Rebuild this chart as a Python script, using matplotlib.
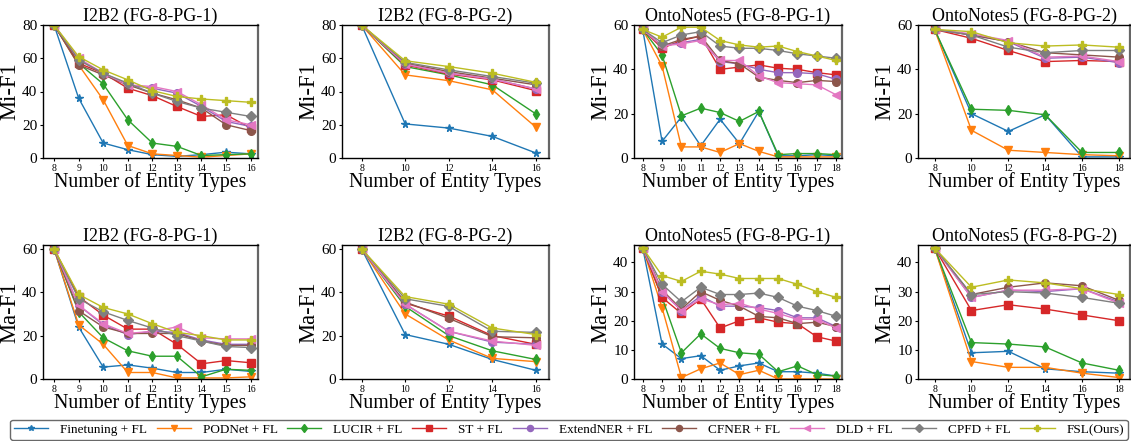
import numpy as np
import matplotlib
matplotlib.use("Agg")
import matplotlib.pyplot as plt

plt.rcParams['font.family'] = ['Liberation Serif', 'DejaVu Serif']
plt.rcParams['mathtext.fontset'] = 'stix'

methods = ['Finetuning + FL', 'PODNet + FL', 'LUCIR + FL', 'ST + FL', 'ExtendNER + FL',
           'CFNER + FL', 'DLD + FL', 'CPFD + FL', 'FSL(Ours)']
colors = ['tab:blue', 'tab:orange', 'tab:green', 'tab:red', 'tab:purple',
          'tab:brown', 'tab:pink', 'tab:gray', 'tab:olive']
markers = ['*', 'v', 'd', 's', 'o', 'o', '<', 'D', 'P']

x_i2b2_pg1 = [8, 9, 10, 11, 12, 13, 14, 15, 16]
x_i2b2_pg2 = [8, 10, 12, 14, 16]
x_onto_pg1 = [8, 9, 10, 11, 12, 13, 14, 15, 16, 17, 18]
x_onto_pg2 = [8, 10, 12, 14, 16, 18]

# Mi-F1, I2B2 (FG-8-PG-1)
mi_i2b2_pg1 = [
    [80, 36, 9, 5, 2, 1, 2, 3.5, 2.5],
    [80, 56, 35, 7.5, 2.5, 1.5, 0.5, 1.5, 2.5],
    [80, 57, 44.5, 23, 9, 7, 1.5, 2, 2.5],
    [80, 57, 51, 42, 37.5, 31, 25, 26, 18],
    [80, 59, 51, 44, 42, 39, 31, 22, 19],
    [80, 56, 50, 44, 39, 35, 30, 20, 16.5],
    [80, 60, 51, 44, 43, 40, 32, 23, 20],
    [80, 59, 51, 45, 39, 34, 30, 27.5, 25],
    [80, 61, 53, 47, 40.5, 37, 35.5, 34.5, 33.5],
]
# Mi-F1, I2B2 (FG-8-PG-2)
mi_i2b2_pg2 = [
    [80, 20.5, 18, 13, 3],
    [80, 50, 46.5, 41, 18.5],
    [80, 55, 50, 44, 26.5],
    [80, 56, 50.5, 47, 40.5],
    [80, 56.5, 51, 47.5, 41.5],
    [80, 57, 52, 48, 44],
    [80, 56.5, 51, 47.5, 41.5],
    [80, 57.5, 53, 49, 45],
    [80, 58.5, 55, 51, 45.5],
]
# Mi-F1, OntoNotes5 (FG-8-PG-1)
mi_onto_pg1 = [
    [58, 7.5, 18.5, 5.5, 17.5, 6.5, 21, 1, 1, 1.5, 1],
    [58, 41.5, 5, 5, 2.5, 6.5, 3, 0.5, 0.5, 0.5, 0.5],
    [58, 46.5, 19, 22.5, 20.5, 16.5, 21, 1.5, 2, 2, 1.5],
    [58, 49.5, 53, 55, 40, 41, 42, 40.5, 40, 38.5, 37.5],
    [58, 50.5, 52, 53.5, 43.5, 42.5, 40, 38.5, 38.5, 38, 35.5],
    [58, 50.5, 53.5, 55, 44, 42.5, 36.5, 35, 34, 35, 34.5],
    [58, 50.5, 51.5, 53, 44, 44, 37, 34, 33.5, 33, 28.5],
    [58, 52, 55.5, 57, 50.5, 49.5, 49.5, 48.5, 47, 46, 45],
    [58, 54.5, 59, 59, 53, 51, 50, 50.5, 48, 46, 44],
]
# Mi-F1, OntoNotes5 (FG-8-PG-2)
mi_onto_pg2 = [
    [58, 20, 12, 19.5, 0.5, 0.5],
    [58, 12.5, 3.5, 2.5, 1.5, 1],
    [58, 22, 21.5, 19.5, 2.5, 2.5],
    [58, 54, 48.5, 43.5, 44, 43.5],
    [58, 55.5, 52.5, 45, 45.5, 43],
    [58, 55.5, 52.5, 47.5, 46.5, 45.5],
    [58, 56, 53, 45.5, 46, 43.5],
    [58, 55.5, 50, 47.5, 48.5, 48.5],
    [58, 57, 52, 50.5, 51, 50],
]
# Ma-F1, I2B2 (FG-8-PG-1)
ma_i2b2_pg1 = [
    [60, 24, 5.5, 6.5, 5, 3, 3, 4.5, 3.5],
    [60, 25, 16, 3, 3, 0.5, 0.5, 0.5, 1],
    [60, 31, 19, 13, 10.5, 10.5, 1, 4.5, 4],
    [60, 38, 29.5, 23, 23, 16, 7, 8.5, 7.5],
    [60, 34, 25, 20.5, 22, 21.5, 18, 16, 16],
    [60, 31.5, 24, 21, 21, 21, 17.5, 15.5, 15.5],
    [60, 34, 25.5, 21, 22, 24, 19, 18.5, 18.5],
    [60, 37, 31, 27, 23.5, 20, 17.5, 15, 14.5],
    [60, 39, 33, 30, 25.5, 21.5, 20, 18, 18],
]
# Ma-F1, I2B2 (FG-8-PG-2)
ma_i2b2_pg2 = [
    [60, 20.5, 16, 9, 4],
    [60, 30, 18, 9.5, 8],
    [60, 33.5, 20, 13, 9],
    [60, 35, 29, 20, 16],
    [60, 34.5, 22, 17, 16],
    [60, 35.5, 28, 19.5, 19],
    [60, 34.5, 22, 17.5, 15.5],
    [60, 37, 33.5, 22, 21.5],
    [60, 38, 34.5, 23.5, 20.5],
]
# Ma-F1, OntoNotes5 (FG-8-PG-1)
ma_onto_pg1 = [
    [45, 12, 7, 8, 3, 4.5, 5.5, 2.5, 2.5, 2, 1],
    [45, 24.5, 0.5, 3.5, 5.5, 1.5, 3, 0, 0, 0, 0],
    [45, 28, 9, 15.5, 10.5, 9, 8.5, 2.5, 4.5, 1.5, 1],
    [45, 28, 22.5, 27.5, 17.5, 20, 21, 19.5, 19, 14.5, 13],
    [45, 30, 23.5, 28.5, 25, 25, 24.5, 23.5, 21, 21, 18],
    [45, 30.5, 24, 30, 27, 25, 21.5, 21, 19, 19.5, 18],
    [45, 30, 23.5, 27.5, 25.5, 26, 24, 22.5, 20.5, 20.5, 17.5],
    [45, 32.5, 26.5, 31.5, 29, 29, 29.5, 28, 25, 23.5, 21.5],
    [45, 35.5, 33.5, 37, 36, 34.5, 34.5, 34.5, 32.5, 30, 28],
]
# Ma-F1, OntoNotes5 (FG-8-PG-2)
ma_onto_pg2 = [
    [45, 9, 9.5, 3.5, 2.5, 2],
    [45, 6, 4, 4, 2, 0.5],
    [45, 12.5, 12, 11, 5.5, 3],
    [45, 23.5, 25.5, 24, 22, 20],
    [45, 28, 30.5, 30, 31, 26.5],
    [45, 29, 31.5, 33, 32, 27],
    [45, 28, 30.5, 30.5, 31, 26],
    [45, 29, 30, 29.5, 28, 26],
    [45, 31.5, 34, 33, 31, 29],
]

panels = [
    ('I2B2 (FG-8-PG-1)', 'Mi-F1', x_i2b2_pg1, mi_i2b2_pg1, 80, [0, 20, 40, 60, 80]),
    ('I2B2 (FG-8-PG-2)', 'Mi-F1', x_i2b2_pg2, mi_i2b2_pg2, 80, [0, 20, 40, 60, 80]),
    ('OntoNotes5 (FG-8-PG-1)', 'Mi-F1', x_onto_pg1, mi_onto_pg1, 60, [0, 20, 40, 60]),
    ('OntoNotes5 (FG-8-PG-2)', 'Mi-F1', x_onto_pg2, mi_onto_pg2, 60, [0, 20, 40, 60]),
    ('I2B2 (FG-8-PG-1)', 'Ma-F1', x_i2b2_pg1, ma_i2b2_pg1, 61.8, [0, 20, 40, 60]),
    ('I2B2 (FG-8-PG-2)', 'Ma-F1', x_i2b2_pg2, ma_i2b2_pg2, 61.8, [0, 20, 40, 60]),
    ('OntoNotes5 (FG-8-PG-1)', 'Ma-F1', x_onto_pg1, ma_onto_pg1, 46, [0, 10, 20, 30, 40]),
    ('OntoNotes5 (FG-8-PG-2)', 'Ma-F1', x_onto_pg2, ma_onto_pg2, 46, [0, 10, 20, 30, 40]),
]

W, H = 1131, 441
fig = plt.figure(figsize=(W / 100, H / 100), dpi=100)

# axes boxes in pixels: (left, right) and (top, bottom)
cols = [(43, 258), (342, 549), (634, 842), (918, 1130)]
rows = [(25, 158), (245, 379)]

handles = []
for k, (title, ylab, xs, ys, ytop, yticks) in enumerate(panels):
    r, c = divmod(k, 4)
    x0, x1 = cols[c]
    y0, y1 = rows[r]
    ax = fig.add_axes([x0 / W, 1 - y1 / H, (x1 - x0) / W, (y1 - y0) / H])
    for i in range(len(methods)):
        h, = ax.plot(xs, ys[i], color=colors[i], marker=markers[i], markersize=5.5,
                     linewidth=1.0, label=methods[i])
        if k == 0:
            handles.append(h)
    ax.set_ylim(0, ytop)
    ax.set_xlim(xs[0] - 0.45 * (xs[1] - xs[0]), xs[-1] + 0.3 * (xs[1] - xs[0]))
    ax.set_xticks(xs)
    ax.set_yticks(yticks)
    ax.tick_params(axis='x', labelsize=7, length=2.5, pad=1.5)
    ax.tick_params(axis='y', labelsize=11, length=2.5, pad=1.5)
    ax.set_title(title, fontsize=13, pad=3)
    ax.set_ylabel(ylab, fontsize=16.3, labelpad=1)
    ax.set_xlabel('Number of Entity Types', fontsize=14.3, labelpad=0)
    for s in ax.spines.values():
        s.set_linewidth(1.0)
    ax.spines['right'].set_color('#666666')
    ax.spines['right'].set_linewidth(1.6)

fig.legend(handles=handles, labels=methods, loc='lower left', ncol=9,
           bbox_to_anchor=(10 / W, 1 - 440 / H, 1118 / W, 20 / H), mode='expand',
           borderaxespad=0, fontsize=9.5, frameon=True, edgecolor='#444444',
           fancybox=True, handlelength=2.6, borderpad=0.3, handletextpad=0.9,
           markerscale=0.8)

fig.savefig('out.png', dpi=100)
